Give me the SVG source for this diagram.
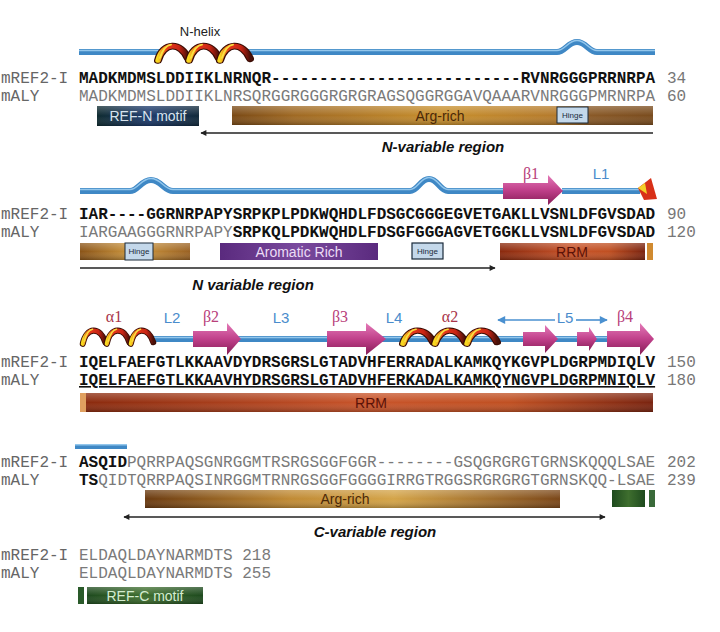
<svg xmlns="http://www.w3.org/2000/svg" xmlns:xlink="http://www.w3.org/1999/xlink" width="720" height="632" viewBox="0 0 720 632">
<style>
.seq{font-family:"Liberation Mono","Courier New",monospace;font-size:16px;fill:#7a7a7a}
.b{font-weight:bold;fill:#111}
.lab{font-family:"Liberation Mono","Courier New",monospace;font-size:16px;fill:#666}
.num{font-family:"Liberation Mono","Courier New",monospace;font-size:16px;fill:#777}
.box{font-family:"Liberation Sans",Arial,sans-serif;font-size:14px;text-anchor:middle}
.hinge{font-family:"Liberation Sans",Arial,sans-serif;font-size:8px;fill:#1a2a3a;text-anchor:middle}
.reg{font-family:"Liberation Sans",Arial,sans-serif;font-size:15px;font-weight:bold;font-style:italic;fill:#111;text-anchor:middle}
.greek{font-family:"Liberation Serif","Times New Roman",serif;font-size:16px;text-anchor:middle}
.bet{fill:#b8407a}
.alp{fill:#a8344a}
.loop{font-family:"Liberation Sans",Arial,sans-serif;font-size:15px;fill:#4a8ccc;text-anchor:middle}
.tube{fill:none;stroke:#3f88c5;stroke-width:6}
.tubehi{fill:none;stroke:#92c6ec;stroke-width:1.5}
.arr{stroke:#222;stroke-width:1.6;fill:none}
.shade{fill:url(#shade)}
</style>
<defs>
<linearGradient id="shade" x1="0" y1="0" x2="0" y2="1">
<stop offset="0" stop-color="#fff" stop-opacity="0.25"/>
<stop offset="0.5" stop-color="#fff" stop-opacity="0"/>
<stop offset="1" stop-color="#000" stop-opacity="0.25"/>
</linearGradient>
<linearGradient id="arg1" x1="0" y1="0" x2="1" y2="0">
<stop offset="0" stop-color="#7a4a16"/><stop offset="0.15" stop-color="#a06a24"/><stop offset="0.5" stop-color="#c8902e"/><stop offset="0.78" stop-color="#b47a2c"/><stop offset="0.85" stop-color="#8a5a28"/><stop offset="1" stop-color="#7a4c1e"/>
</linearGradient>
<linearGradient id="arg2" x1="0" y1="0" x2="1" y2="0">
<stop offset="0" stop-color="#8a5418"/><stop offset="0.5" stop-color="#d09a40"/><stop offset="1" stop-color="#9a6224"/>
</linearGradient>
<linearGradient id="arg4" x1="0" y1="0" x2="1" y2="0">
<stop offset="0" stop-color="#6a3a10"/><stop offset="0.35" stop-color="#c08a34"/><stop offset="0.6" stop-color="#d4a448"/><stop offset="1" stop-color="#7a4618"/>
</linearGradient>
<linearGradient id="rrm" x1="0" y1="0" x2="1" y2="0">
<stop offset="0" stop-color="#8a2a0e"/><stop offset="0.5" stop-color="#c8542a"/><stop offset="0.75" stop-color="#c05022"/><stop offset="1" stop-color="#7a2410"/>
</linearGradient>
<linearGradient id="refn" x1="0" y1="0" x2="1" y2="0">
<stop offset="0" stop-color="#0e2a30"/><stop offset="0.5" stop-color="#1c3a6c"/><stop offset="1" stop-color="#10283a"/>
</linearGradient>
<linearGradient id="refc" x1="0" y1="0" x2="1" y2="0">
<stop offset="0" stop-color="#1e4a1e"/><stop offset="0.5" stop-color="#3e6e2e"/><stop offset="1" stop-color="#1e4a1e"/>
</linearGradient>
<linearGradient id="arom" x1="0" y1="0" x2="1" y2="0">
<stop offset="0" stop-color="#5a2a7e"/><stop offset="0.5" stop-color="#7a4a9e"/><stop offset="1" stop-color="#5a2a7e"/>
</linearGradient>
<linearGradient id="beta" x1="0" y1="0" x2="0" y2="1">
<stop offset="0" stop-color="#e47ab8"/><stop offset="0.5" stop-color="#c0408a"/><stop offset="1" stop-color="#861c56"/>
</linearGradient>
<linearGradient id="hx" x1="0" y1="0" x2="1" y2="0">
<stop offset="0" stop-color="#f8d820"/><stop offset="0.3" stop-color="#e83a1a"/><stop offset="0.7" stop-color="#c82414"/><stop offset="1" stop-color="#4a1008"/>
</linearGradient>
<g id="turn">
<path d="M1,24 C6,2 24,2 31,22" stroke="#3a0c04" stroke-width="8" fill="none" stroke-linecap="round"/>
<path d="M1,24 C6,2 24,2 31,22" stroke="url(#hx)" stroke-width="5.5" fill="none" stroke-linecap="round"/>
<path d="M3,21 C6,10 10,6 14,5.5" stroke="#f8e040" stroke-width="2" fill="none" stroke-linecap="round"/>
</g>
<marker id="ah" viewBox="0 0 10 10" refX="9" refY="5" markerWidth="7" markerHeight="6" orient="auto-start-reverse" markerUnits="userSpaceOnUse">
<path d="M0,0 L10,5 L0,10 z" fill="#222"/>
</marker>
<marker id="ahb" viewBox="0 0 10 10" refX="9" refY="5" markerWidth="9" markerHeight="8" orient="auto-start-reverse" markerUnits="userSpaceOnUse">
<path d="M0,0 L10,5 L0,10 z" fill="#4a90d0"/>
</marker>
</defs>
<rect width="720" height="632" fill="#fff"/>

<!-- Section 1 -->
<g id="s1-tube">
<path class="tube" d="M79,52 H160 M247,52 H557 C565,52 568,42 577,42 C586,42 589,52 597,52 H655"/>
<path class="tubehi" d="M79,50.5 H160 M247,50.5 H557 C565,50.5 568,40.5 577,40.5 C586,40.5 589,50.5 597,50.5 H655"/>
</g>
<g id="n-helix">
<use xlink:href="#turn" href="#turn" transform="translate(157,40) scale(1,0.85)"/>
<use xlink:href="#turn" href="#turn" transform="translate(188,40) scale(1,0.85)"/>
<use xlink:href="#turn" href="#turn" transform="translate(219,40) scale(1,0.85)"/>
<text x="200" y="36" font-family="Liberation Sans, Arial, sans-serif" font-size="13" fill="#222" text-anchor="middle">N-helix</text>
</g>
<g id="s1-seq">
<text class="lab" x="1" y="83">mREF2-I</text>
<text class="lab" x="1" y="101">mALY</text>
<text class="seq b" x="79" y="83">MADKMDMSLDDIIKLNRNQR--------------------------RVNRGGGPRRNRPA</text>
<text class="seq" x="79" y="101">MADKMDMSLDDIIKLNRSQRGGRGGGRGRGRAGSQGGRGGAVQAAARVNRGGGPMRNRPA</text>
<text class="num" x="667" y="83">34</text>
<text class="num" x="667" y="101">60</text>
</g>
<g id="ref-n-motif">
<rect x="97" y="106" width="102" height="20" fill="url(#refn)"/>
<rect x="97" y="106" width="102" height="20" class="shade"/>
<text class="box" x="148" y="121" fill="#d8e4ee">REF-N motif</text>
</g>
<g id="arg-rich-1">
<rect x="232" y="106" width="421" height="19" fill="url(#arg1)"/>
<rect x="232" y="106" width="421" height="19" class="shade"/>
<text class="box" x="440" y="121" fill="#4a2808">Arg-rich</text>
</g>
<g id="hinge-1">
<rect x="557" y="107" width="31" height="16" fill="#c4d8ea" stroke="#1a2a3a" stroke-width="1"/>
<text class="hinge" x="572.5" y="118">Hinge</text>
</g>
<text class="reg" x="443" y="152">N-variable region</text>

<!-- Section 2 -->
<g id="s2-tube">
<path class="tube" d="M80,191 H130 C138,191 141,180 151,180 C161,180 164,191 173,191 H410 C418,191 420,179 429,179 C438,179 440,191 448,191 H505 M562,191 H640"/>
<path class="tubehi" d="M80,189.5 H130 C138,189.5 141,178.5 151,178.5 C161,178.5 164,189.5 173,189.5 H410 C418,189.5 420,177.5 429,177.5 C438,177.5 440,189.5 448,189.5 H505 M562,189.5 H640"/>
</g>
<g id="beta1">
<polygon points="503,183 548,183 548,175 563,191 548,205 548,199 503,199" fill="url(#beta)"/>
<text class="greek bet" x="531" y="179">β1</text>
</g>
<text class="loop" x="601" y="179">L1</text>
<g id="helix-stub">
<polygon points="638,188 651,178 657,199 644,200" fill="#d83018"/>
<polygon points="638,188 645,183 647,194" fill="#f4d028"/>
</g>
<g id="s2-seq">
<text class="lab" x="1" y="219">mREF2-I</text>
<text class="lab" x="1" y="237">mALY</text>
<text class="seq b" x="79" y="219">IAR----GGRNRPAPYSRPKPLPDKWQHDLFDSGCGGGEGVETGAKLLVSNLDFGVSDAD</text>
<text class="seq" x="79" y="237">IARGAAGGGRNRPAPY<tspan class="b">SRPKQLPDKWQHDLFDSGFGGGAGVETGGKLLVSNLDFGVSDAD</tspan></text>
<text class="num" x="667" y="219">90</text>
<text class="num" x="667" y="237">120</text>
</g>
<g id="arg-rich-2">
<rect x="80" y="243" width="110" height="17" fill="url(#arg2)"/>
<rect x="80" y="243" width="110" height="17" class="shade"/>
</g>
<g id="hinge-2">
<rect x="125" y="243" width="28" height="17" fill="#c4d8ea" stroke="#1a2a3a" stroke-width="1"/>
<text class="hinge" x="139" y="254">Hinge</text>
</g>
<g id="aromatic-rich">
<rect x="220" y="243" width="158" height="17" fill="url(#arom)"/>
<text class="box" x="299" y="257" fill="#ecdcf6">Aromatic Rich</text>
</g>
<g id="hinge-3">
<rect x="412" y="243" width="31" height="16" fill="#c4d8ea" stroke="#1a2a3a" stroke-width="1.2"/>
<text class="hinge" x="427.5" y="254">Hinge</text>
</g>
<g id="rrm-1">
<rect x="500" y="243" width="145" height="17" fill="url(#rrm)"/>
<rect x="500" y="243" width="145" height="17" class="shade"/>
<rect x="647" y="243" width="6" height="17" fill="#d08a30"/>
<text class="box" x="572" y="257" fill="#5a1208" font-size="15">RRM</text>
</g>
<text class="reg" x="253" y="290">N variable region</text>

<!-- Section 3 -->
<g id="s3-tube">
<path class="tube" d="M150,339 H610"/>
<path class="tubehi" d="M150,337.5 H610"/>
</g>
<g id="alpha1">
<use xlink:href="#turn" href="#turn" transform="translate(82,325) scale(0.75,0.78)"/>
<use xlink:href="#turn" href="#turn" transform="translate(106,325) scale(0.75,0.78)"/>
<use xlink:href="#turn" href="#turn" transform="translate(130,325) scale(0.75,0.78)"/>
<text class="greek alp" x="114" y="322">α1</text>
</g>
<text class="loop" x="172" y="323">L2</text>
<g id="beta2">
<polygon points="193,331 227,331 227,323 241,339 227,355 227,347 193,347" fill="url(#beta)"/>
<text class="greek bet" x="211" y="322">β2</text>
</g>
<text class="loop" x="281" y="323">L3</text>
<g id="beta3">
<polygon points="327,331 366,331 366,323 386,339 366,355 366,347 327,347" fill="url(#beta)"/>
<text class="greek bet" x="340" y="322">β3</text>
</g>
<text class="loop" x="394" y="323">L4</text>
<g id="alpha2">
<use xlink:href="#turn" href="#turn" transform="translate(402,325) scale(1,0.78)"/>
<use xlink:href="#turn" href="#turn" transform="translate(434,325) scale(1,0.78)"/>
<use xlink:href="#turn" href="#turn" transform="translate(466,325) scale(1,0.78)"/>
<text class="greek alp" x="450" y="322">α2</text>
</g>
<g id="beta-l5a">
<polygon points="523,332 545,332 545,325 558,339 545,353 545,346 523,346" fill="url(#beta)"/>
</g>
<g id="beta-l5b">
<polygon points="577,332 589,332 589,327 597,339 589,351 589,346 577,346" fill="url(#beta)"/>
</g>
<g id="beta4">
<polygon points="607,331 640,331 640,323 654,339 640,355 640,347 607,347" fill="url(#beta)"/>
<text class="greek bet" x="625" y="322">β4</text>
</g>
<text class="loop" x="565" y="323">L5</text>
<g id="s3-seq">
<text class="lab" x="1" y="367">mREF2-I</text>
<text class="lab" x="1" y="385">mALY</text>
<text class="seq b" x="79" y="367">IQELFAEFGTLKKAAVDYDRSGRSLGTADVHFERRADALKAMKQYKGVPLDGRPMDIQLV</text>
<text class="seq b" x="79" y="385" text-decoration="underline">IQELFAEFGTLKKAAVHYDRSGRSLGTADVHFERKADALKAMKQYNGVPLDGRPMNIQLV</text>
<text class="num" x="667" y="367">150</text>
<text class="num" x="667" y="385">180</text>
</g>
<g id="rrm-2">
<rect x="80" y="393" width="573" height="19" fill="url(#rrm)"/>
<rect x="80" y="393" width="573" height="19" class="shade"/>
<rect x="80" y="393" width="6" height="19" fill="#e0a060"/>
<text class="box" x="371" y="408" fill="#5a1208" font-size="15">RRM</text>
</g>

<!-- Section 4 -->
<g id="s4-tube">
<rect x="75" y="444" width="52" height="5" fill="#3f88c5"/>
<rect x="75" y="444" width="52" height="1.5" fill="#92c6ec"/>
</g>
<g id="s4-seq">
<text class="lab" x="1" y="467">mREF2-I</text>
<text class="lab" x="1" y="485">mALY</text>
<text class="seq" x="79" y="467"><tspan class="b">ASQID</tspan>PQRRPAQSGNRGGMTRSRGSGGFGGR--------GSQGRGRGTGRNSKQQQLSAE</text>
<text class="seq" x="79" y="485"><tspan class="b">TS</tspan>QIDTQRRPAQSINRGGMTRNRGSGGFGGGGIRRGTRGGSRGRGRGTGRNSKQQ-LSAE</text>
<text class="num" x="667" y="467">202</text>
<text class="num" x="667" y="485">239</text>
</g>
<g id="arg-rich-3">
<rect x="145" y="490" width="415" height="18" fill="url(#arg4)"/>
<rect x="145" y="490" width="415" height="18" class="shade"/>
<text class="box" x="345" y="504" fill="#4a2808">Arg-rich</text>
</g>
<g id="green-c">
<rect x="612" y="490" width="33" height="17" fill="url(#refc)"/>
<rect x="649" y="490" width="6" height="17" fill="#3a6a3a"/>
</g>
<text class="reg" x="375" y="537">C-variable region</text>

<!-- Section 5 -->
<g id="s5-seq">
<text class="lab" x="1" y="560">mREF2-I</text>
<text class="lab" x="1" y="578">mALY</text>
<text class="seq" x="79" y="560">ELDAQLDAYNARMDTS 218</text>
<text class="seq" x="79" y="578">ELDAQLDAYNARMDTS 255</text>
</g>
<g id="ref-c-motif">
<rect x="78" y="587" width="6" height="17" fill="#2a5a2a"/>
<rect x="87" y="587" width="116" height="17" fill="url(#refc)"/>
<rect x="87" y="587" width="116" height="17" class="shade"/>
<text class="box" x="145" y="601" fill="#d4ecd0">REF-C motif</text>
</g>

<g id="connectors">
<line class="arr" x1="653" y1="133" x2="201" y2="133" marker-end="url(#ah)"/>
<line class="arr" x1="80" y1="268" x2="495" y2="268" marker-end="url(#ah)"/>
<line class="arr" x1="124" y1="517" x2="605" y2="517" marker-start="url(#ah)" marker-end="url(#ah)"/>
<line x1="555" y1="320" x2="498" y2="320" stroke="#4a90d0" stroke-width="1.6" marker-end="url(#ahb)"/>
<line x1="576" y1="320" x2="607" y2="320" stroke="#4a90d0" stroke-width="1.6" marker-end="url(#ahb)"/>
</g>
</svg>
